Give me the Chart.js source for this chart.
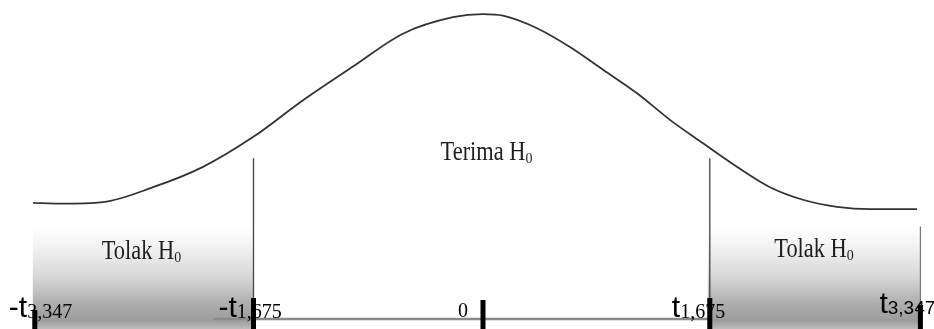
<!DOCTYPE html>
<html>
<head>
<meta charset="utf-8">
<script src="https://cdn.jsdelivr.net/npm/chart.js@4/dist/chart.umd.min.js"></script>
<style>
html,body{margin:0;padding:0;background:#fff;}
#c{display:block;}
</style>
</head>
<body>
<canvas id="c" width="934" height="329"></canvas>
<script>
// Curve of the distribution (schematic), x in t-units, y in density-like units
const curveX = [-3.333,-3.133,-2.815,-2.444,-2.074,-1.704,-1.333,-0.963,-0.593,-0.222,0,0.148,0.400,0.644,0.889,1.141,1.385,1.630,1.881,2.126,2.370,2.622,2.867,3.215];
const curveY = [0.161,0.160,0.162,0.181,0.207,0.245,0.292,0.335,0.377,0.398,0.402,0.400,0.384,0.360,0.331,0.301,0.267,0.237,0.207,0.181,0.165,0.156,0.153,0.153];

// Critical values (positions on the schematic axis) and their labels
const critPositions = [-3.32, -1.70, 0, 1.68, 3.24];
const critMain = ['-t', '-t', '0', 't', 't'];
const critSub  = ['3,347', '1,675', '', '1,675', '3,347'];

// Regions and their labels
const regionNames = ['Tolak H', 'Terima H', 'Tolak H'];
const regionSubs  = ['0', '0', '0'];
const regionCenters = [-2.53, 0.026, 2.452];

const X_MIN = -483/135, X_MAX = 451/135;
const Y_MIN = 0, Y_MAX = 0.42;

const diagramPlugin = {
  id: 'diagram',
  beforeDatasetsDraw(chart, args, opts) {
    const {ctx, scales:{x, y}} = chart;
    const rects = [[critPositions[0], critPositions[1]], [critPositions[3], critPositions[4]]];
    rects.forEach(([a, b]) => {
      const x0 = x.getPixelForValue(a) - 2, x1 = x.getPixelForValue(b);
      const yTop = y.getPixelForValue(opts.regionTop), yBot = y.getPixelForValue(0);
      const g = ctx.createLinearGradient(0, yTop, 0, yBot);
      g.addColorStop(0, '#ffffff');
      g.addColorStop(0.2, '#f2f2f2');
      g.addColorStop(0.5, '#d6d6d6');
      g.addColorStop(0.75, '#aeaeae');
      g.addColorStop(0.92, '#9c9c9c');
      g.addColorStop(1, '#bdbdbd');
      ctx.save();
      ctx.fillStyle = g;
      ctx.fillRect(x0, yTop, x1 - x0, yBot - yTop);
      ctx.restore();
    });
    // baseline between the inner critical values
    ctx.save();
    ctx.strokeStyle = '#8a8a8a';
    ctx.lineWidth = 2.5;
    ctx.beginPath();
    const by = opts.baselinePx;
    ctx.moveTo(x.getPixelForValue(critPositions[1]) - 40, by);
    ctx.lineTo(x.getPixelForValue(critPositions[3]), by);
    ctx.stroke();
    ctx.restore();
  },
  afterDatasetsDraw(chart, args, opts) {
    const {ctx, scales:{x, y}} = chart;
    ctx.save();
    // region labels
    ctx.fillStyle = '#1e1e1e';
    ctx.textBaseline = 'alphabetic';
    const bigFont = '28px "Liberation Serif", "DejaVu Serif", serif';
    const subFont = '14px "Liberation Serif", serif';
    regionNames.forEach((name, i) => {
      const cx = x.getPixelForValue(regionCenters[i]);
      const base = opts.regionBase[i];
      ctx.font = bigFont;
      const w = ctx.measureText(name).width * 0.8;
      ctx.font = subFont;
      const ws = ctx.measureText(regionSubs[i]).width;
      const start = cx - (w + ws) / 2;
      ctx.save();
      ctx.translate(start, base);
      ctx.scale(0.8, 1);
      ctx.font = bigFont;
      ctx.fillText(name, 0, 0);
      ctx.restore();
      ctx.font = subFont;
      ctx.fillText(regionSubs[i], start + w, base + 3);
    });
    // tick labels
    ctx.fillStyle = '#000';
    critPositions.forEach((p, i) => {
      const px = x.getPixelForValue(p) + opts.labelDx[i];
      const base = opts.labelBase[i];
      ctx.font = opts.mainFonts[i];
      ctx.fillText(critMain[i], px, base);
      const w = ctx.measureText(critMain[i]).width;
      ctx.font = opts.subFonts[i];
      ctx.fillText(critSub[i], px + w, base + 1);
    });
    // ticks
    ctx.fillStyle = '#000';
    critPositions.forEach((p, i) => {
      const px = x.getPixelForValue(p);
      const yb = y.getPixelForValue(0);
      ctx.fillRect(px - 2.5, yb - opts.tickLen[i], 5, opts.tickLen[i]);
    });
    ctx.restore();
  }
};

const sansMain = '30px "Liberation Sans", Arial, sans-serif';
new Chart(document.getElementById('c'), {
  type: 'scatter',
  data: {
    datasets: [
      {
        data: curveX.map((v, i) => ({x: v, y: curveY[i]})),
        showLine: true,
        borderColor: '#333',
        borderWidth: 1.8,
        pointRadius: 0,
        cubicInterpolationMode: 'monotone',
        clip: false
      },
      {
        data: [{x: critPositions[1], y: 0}, {x: critPositions[1], y: 0.218}],
        showLine: true, borderColor: '#444', borderWidth: 1.3, pointRadius: 0, clip: false
      },
      {
        data: [{x: critPositions[3], y: 0}, {x: critPositions[3], y: 0.218}],
        showLine: true, borderColor: '#444', borderWidth: 1.3, pointRadius: 0, clip: false
      },
      {
        data: [{x: critPositions[4], y: 0}, {x: critPositions[4], y: 0.131}],
        showLine: true, borderColor: '#777', borderWidth: 1.2, pointRadius: 0, clip: false
      }
    ]
  },
  options: {
    responsive: false,
    maintainAspectRatio: false,
    devicePixelRatio: 1,
    animation: false,
    layout: {padding: 0},
    events: [],
    scales: {
      x: {type: 'linear', min: X_MIN, max: X_MAX, display: false},
      y: {type: 'linear', min: Y_MIN, max: Y_MAX, display: false}
    },
    plugins: {
      legend: {display: false},
      tooltip: {enabled: false},
      diagram: {
        regionTop: 0.131,
        baselinePx: 319,
        regionBase: [259, 160, 257],
        labelDx: [-26, -35, -25, -38, -41],
        labelBase: [317, 317, 317, 317, 313],
        mainFonts: [sansMain, sansMain, '20px "Liberation Serif", serif', sansMain, sansMain],
        subFonts: ['20px "Liberation Serif", serif', '20px "Liberation Serif", serif', '20px "Liberation Serif", serif', '20px "Liberation Serif", serif', '19px "Liberation Sans", Arial, sans-serif'],
        tickLen: [19, 31, 29, 31, 24]
      }
    }
  },
  plugins: [diagramPlugin]
});
</script>
</body>
</html>
